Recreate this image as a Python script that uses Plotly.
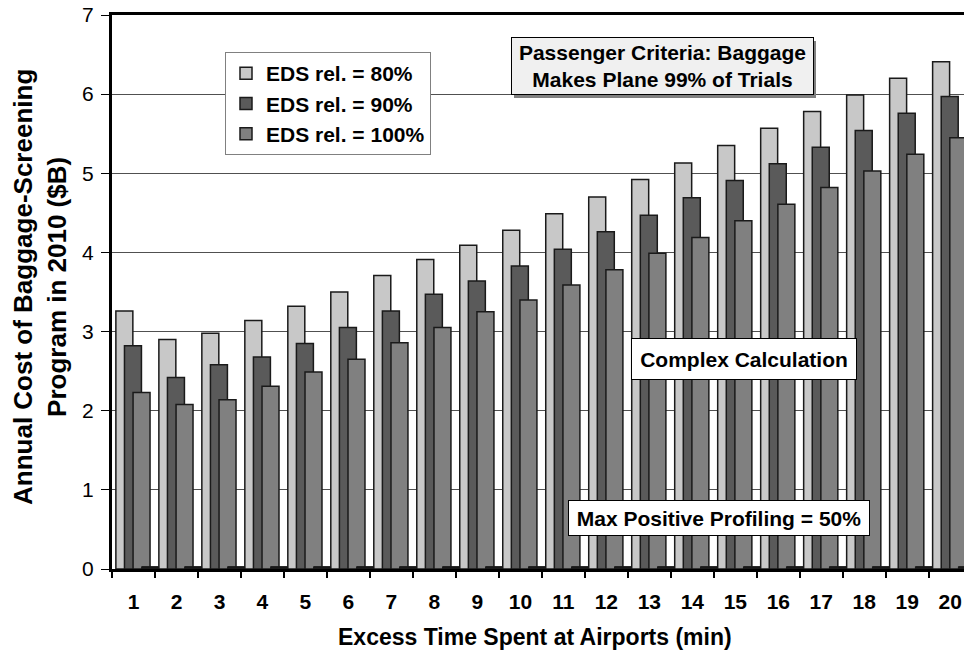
import plotly.graph_objects as go

FONT = "Liberation Sans, Arial, sans-serif"

minutes = ["1", "2", "3", "4", "5", "6", "7", "8", "9", "10",
           "11", "12", "13", "14", "15", "16", "17", "18", "19", "20"]
eds_80 = [3.26, 2.90, 2.98, 3.14, 3.32, 3.50, 3.71, 3.91, 4.09, 4.28,
          4.49, 4.70, 4.92, 5.13, 5.35, 5.57, 5.78, 5.99, 6.20, 6.41]
eds_90 = [2.82, 2.42, 2.58, 2.68, 2.85, 3.05, 3.26, 3.47, 3.64, 3.83,
          4.04, 4.26, 4.47, 4.69, 4.91, 5.12, 5.33, 5.54, 5.76, 5.97]
eds_100 = [2.23, 2.08, 2.14, 2.31, 2.49, 2.65, 2.86, 3.05, 3.25, 3.40,
           3.59, 3.78, 3.99, 4.19, 4.40, 4.61, 4.82, 5.03, 5.24, 5.45]
# fourth (empty) series of the original cluster, only its outline shows at the baseline
empty_series = [0.03, 0.03, 0.03, 0.03, 0.03, 0.03, 0.03, 0.03, 0.03, 0.03,
                0.03, 0.03, 0.03, 0.03, 0.03, 0.03, 0.03, 0.03, 0.03, 0.03]

series = [
    ("EDS rel. = 80%", eds_80, "#c8c8c8"),
    ("EDS rel. = 90%", eds_90, "#5a5a5a"),
    ("EDS rel. = 100%", eds_100, "#808080"),
]

W, H = 964, 654
PL, PR, PT, PB = 112, 964, 15, 569


def px_x(px):
    return (px - PL) / (PR - PL)


def px_y(py):
    return (PB - py) / (PB - PT)


fig = go.Figure()

bar_width = 0.395
for i, (name, values, color) in enumerate(series):
    fig.add_trace(go.Bar(
        x=minutes, y=values, name=name,
        width=bar_width, offset=-0.41 + 0.2 * i,
        marker=dict(color=color, line=dict(color="#1a1a1a", width=1.5)),
        legendgroup=name,
    ))

fig.add_trace(go.Bar(
    x=minutes, y=empty_series, showlegend=False,
    width=bar_width, offset=-0.41 + 0.2 * 3,
    marker=dict(color="#1a1a1a", line=dict(color="#1a1a1a", width=1)),
    hoverinfo="skip",
))

fig.update_layout(
    width=W, height=H,
    margin=dict(l=PL, r=W - PR, t=PT, b=H - PB, autoexpand=False),
    paper_bgcolor="white", plot_bgcolor="white",
    barmode="overlay",
    font=dict(family=FONT, color="black"),
    legend=dict(
        x=px_x(225), y=px_y(52), xanchor="left", yanchor="top",
        bgcolor="white", bordercolor="#808080", borderwidth=1,
        font=dict(size=21, weight="bold", family=FONT),
        tracegroupgap=0,
    ),
)

fig.update_xaxes(
    type="category", range=[-0.5, 19.32],
    showgrid=False, tickson="boundaries",
    ticks="outside", ticklen=6, tickwidth=1.5, tickcolor="black",
    showline=True, linewidth=3, linecolor="black", mirror=True,
    tickfont=dict(size=21, weight="bold", family=FONT),
    ticklabelstandoff=12,
)
fig.update_yaxes(
    range=[0, 7], dtick=1,
    showgrid=True, gridcolor="#505050", gridwidth=1,
    ticks="outside", ticklen=8, tickwidth=1, tickcolor="black",
    showline=True, linewidth=3, linecolor="black",
    tickfont=dict(size=21, family=FONT),
    ticklabelstandoff=3,
    zeroline=False,
)

# shadow behind the criteria box
fig.add_shape(
    type="rect", xref="paper", yref="paper", layer="above",
    x0=px_x(514), x1=px_x(816), y0=px_y(98), y1=px_y(41),
    fillcolor="#808080", line=dict(width=0),
)

box_font = dict(size=21, weight="bold", family=FONT, color="black")
boxes = [
    ("Passenger Criteria: Baggage<br>Makes Plane 99% of Trials", 662, 66, "#f0f0f0", 295, 50),
    ("Complex Calculation", 744, 359, "white", 218, 34),
    ("Max Positive Profiling = 50%", 719, 518, "white", 294, 28),
]
for text, cx, cy, bg, w, h in boxes:
    fig.add_annotation(
        xref="paper", yref="paper", x=px_x(cx), y=px_y(cy),
        xanchor="center", yanchor="middle",
        text=text, showarrow=False, font=box_font, bgcolor=bg,
        bordercolor="black", borderwidth=1, borderpad=3, width=w, height=h,
    )

# axis titles
fig.add_annotation(
    xref="paper", yref="paper", x=px_x(535), y=px_y(637),
    xanchor="center", yanchor="middle",
    text="Excess Time Spent at Airports (min)", showarrow=False,
    font=dict(size=23, weight="bold", family=FONT, color="black"),
)
fig.add_annotation(
    xref="paper", yref="paper", x=px_x(40), y=px_y(287),
    xanchor="center", yanchor="middle",
    text="Annual Cost of Baggage-Screening<br>Program in 2010 ($B)",
    textangle=-90, showarrow=False,
    font=dict(size=26, weight="bold", family=FONT, color="black"),
)

fig.write_html(
    "out.html",
    config={"displayModeBar": False},
    post_script="document.body.style.margin='0';",
)
